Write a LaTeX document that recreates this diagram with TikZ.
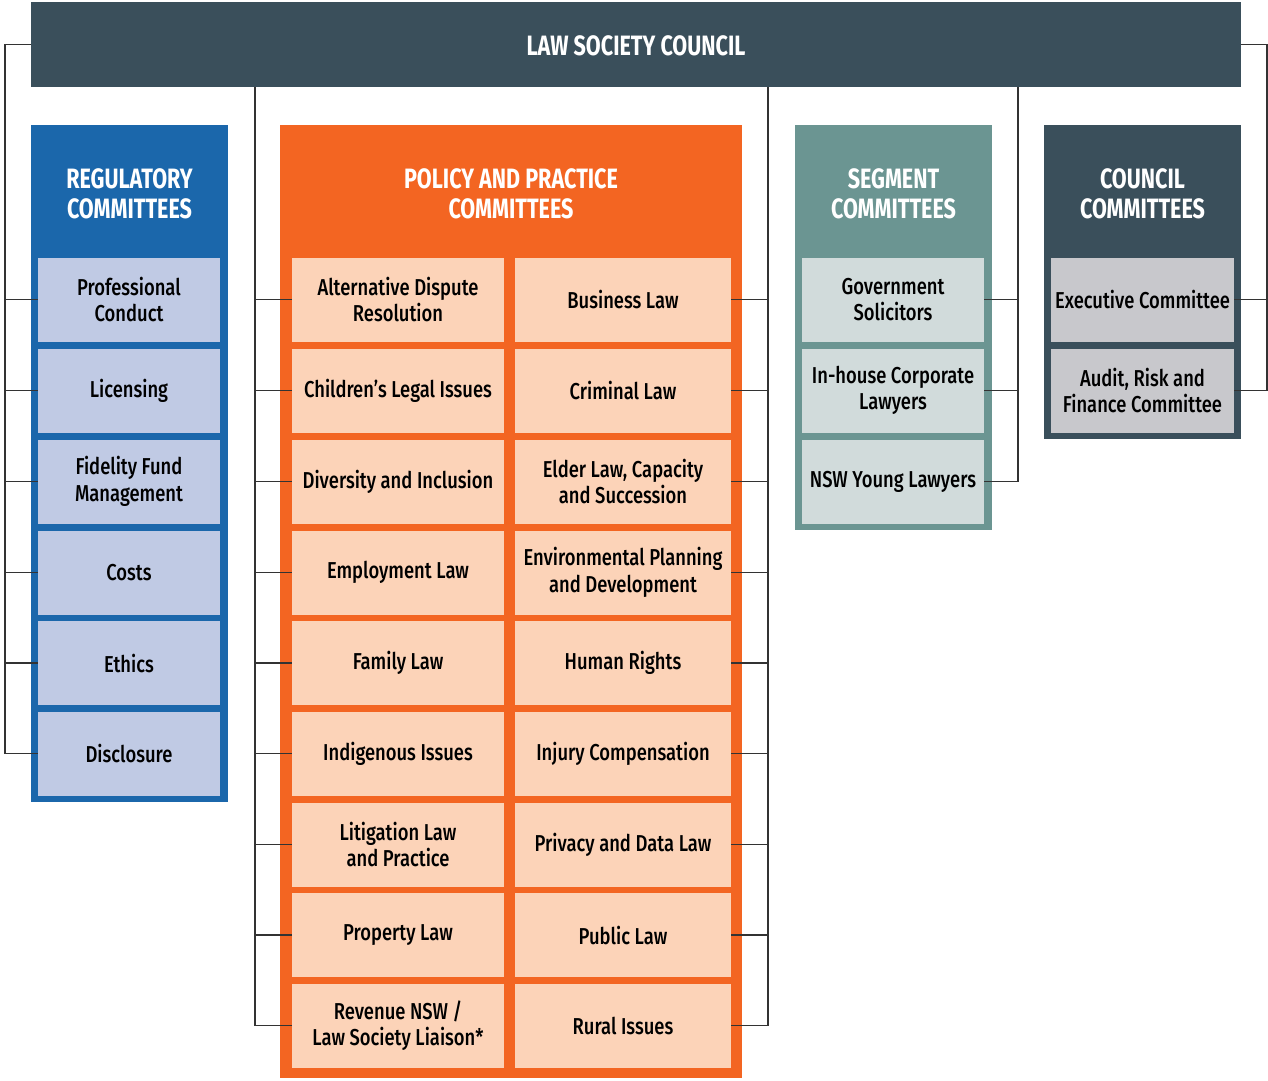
\documentclass[tikz,border=0pt]{standalone}
\usepackage{fontspec}
\setmainfont{Fira Sans}[FakeStretch=0.80, UprightFont=* Medium, BoldFont=* Bold]
\newfontfamily\ttlfont{Fira Sans}[FakeStretch=0.77, UprightFont=* Bold]
\definecolor{banner}{HTML}{3A4F5B}
\definecolor{regblue}{HTML}{1B67AB}
\definecolor{reglight}{HTML}{C0CAE4}
\definecolor{polor}{HTML}{F36522}
\definecolor{pollight}{HTML}{FCD3B8}
\definecolor{segteal}{HTML}{6B9592}
\definecolor{seglight}{HTML}{D1DBDB}
\definecolor{counlight}{HTML}{C8C8CC}
\definecolor{conncol}{HTML}{333333}
\tikzset{
  ttl/.style={text=white, font=\ttlfont\fontsize{28}{30}\selectfont, align=center, inner sep=0pt},
  item/.style={draw=none, inner sep=0pt, outer sep=0pt, minimum height=84pt, align=center,
     font=\fontsize{23}{26.5}\selectfont, text=black},
  regitem/.style={item, fill=reglight, minimum width=182pt},
  politem/.style={item, fill=pollight},
  segitem/.style={item, fill=seglight, minimum width=182pt},
  counitem/.style={item, fill=counlight, minimum width=183pt},
  conn/.style={draw=conncol, line width=1.3pt},
}
\begin{document}
\begin{tikzpicture}[x=1pt,y=-1pt]
\useasboundingbox (0,0) rectangle (1268,1080);
% panels
\fill[banner] (31,2) rectangle (1241,87);
\node[text=white, font=\ttlfont\fontsize{28}{30}\selectfont, inner sep=0pt, minimum width=1210pt, minimum height=85pt] (council) at (636,44.5) {\raisebox{-11pt}[0pt][0pt]{LAW SOCIETY COUNCIL}};
\fill[regblue] (31,125) rectangle (228,802);
\fill[polor] (280,125) rectangle (742,1078);
\fill[segteal] (795,125) rectangle (992,530);
\fill[banner] (1044,125) rectangle (1241,439);
\node[ttl] (regt) at (129.5,194) {REGULATORY\\COMMITTEES};
\node[ttl] (polt) at (511,194) {POLICY AND PRACTICE\\COMMITTEES};
\node[ttl] (segt) at (893.5,194) {SEGMENT\\COMMITTEES};
\node[ttl] (count) at (1142.5,194) {COUNCIL\\COMMITTEES};
% regulatory items
\node[regitem] (r1) at (129,299.5) {Professional\\Conduct};
\node[regitem] (r2) at (129,390.5) {Licensing};
\node[regitem] (r3) at (129,481.5) {Fidelity Fund\\Management};
\node[regitem] (r4) at (129,572.5) {Costs};
\node[regitem] (r5) at (129,663) {Ethics};
\node[regitem] (r6) at (129,753.5) {Disclosure};
% policy items
\def\pl{398}\def\pr{623}
\tikzset{pl/.style={politem, minimum width=212pt}, pr/.style={politem, minimum width=216pt}}
\node[pl] (p1l) at (\pl,299.5) {Alternative Dispute\\Resolution};
\node[pr] (p1r) at (\pr,299.5) {Business Law};
\node[pl] (p2l) at (\pl,390.5) {Children’s Legal Issues};
\node[pr] (p2r) at (\pr,390.5) {Criminal Law};
\node[pl] (p3l) at (\pl,481.5) {Diversity and Inclusion};
\node[pr] (p3r) at (\pr,481.5) {Elder Law, Capacity\\and Succession};
\node[pl] (p4l) at (\pl,572.5) {Employment Law};
\node[pr] (p4r) at (\pr,572.5) {Environmental Planning\\and Development};
\node[pl] (p5l) at (\pl,663) {Family Law};
\node[pr] (p5r) at (\pr,663) {Human Rights};
\node[pl] (p6l) at (\pl,753.5) {Indigenous Issues};
\node[pr] (p6r) at (\pr,753.5) {Injury Compensation};
\node[pl] (p7l) at (\pl,844.5) {Litigation Law\\and Practice};
\node[pr] (p7r) at (\pr,844.5) {Privacy and Data Law};
\node[pl] (p8l) at (\pl,935) {Property Law};
\node[pr] (p8r) at (\pr,935) {Public Law};
\node[pl] (p9l) at (\pl,1025.5) {Revenue NSW /\\Law Society Liaison*};
\node[pr] (p9r) at (\pr,1025.5) {Rural Issues};
% segment items
\node[segitem] (s1) at (893,299.5) {Government\\Solicitors};
\node[segitem] (s2) at (893,390.5) {In-house Corporate\\Lawyers};
\node[segitem] (s3) at (893,481.5) {NSW Young Lawyers};
% council items
\node[counitem] (c1) at (1142.5,299.5) {Executive Committee};
\node[counitem] (c2) at (1142.5,390.5) {Audit, Risk and\\Finance Committee};
% connector rails
\coordinate (LA) at (5,0);
\coordinate (LB) at (255,0);
\coordinate (LC) at (768,0);
\coordinate (LD) at (1018,0);
\coordinate (LE) at (1267,0);
% regulatory connectors
\draw[conn] (council.west) -- (council.west -| LA) -- (r6.west -| LA) -- (r6.west);
\foreach \n in {r1,r2,r3,r4,r5}{\draw[conn] (\n.west -| LA) -- (\n.west);}
% policy connectors
\draw[conn] (LB |- council.south) -- (p9l.west -| LB) -- (p9l.west);
\foreach \n in {p1l,p2l,p3l,p4l,p5l,p6l,p7l,p8l}{\draw[conn] (\n.west -| LB) -- (\n.west);}
\draw[conn] (LC |- council.south) -- (p9r.east -| LC) -- (p9r.east);
\foreach \n in {p1r,p2r,p3r,p4r,p5r,p6r,p7r,p8r}{\draw[conn] (\n.east -| LC) -- (\n.east);}
% segment connectors
\draw[conn] (LD |- council.south) -- (s3.east -| LD) -- (s3.east);
\foreach \n in {s1,s2}{\draw[conn] (\n.east -| LD) -- (\n.east);}
% council connectors
\draw[conn] (council.east) -- (council.east -| LE) -- (c2.east -| LE) -- (c2.east);
\draw[conn] (c1.east -| LE) -- (c1.east);
\end{tikzpicture}
\end{document}
